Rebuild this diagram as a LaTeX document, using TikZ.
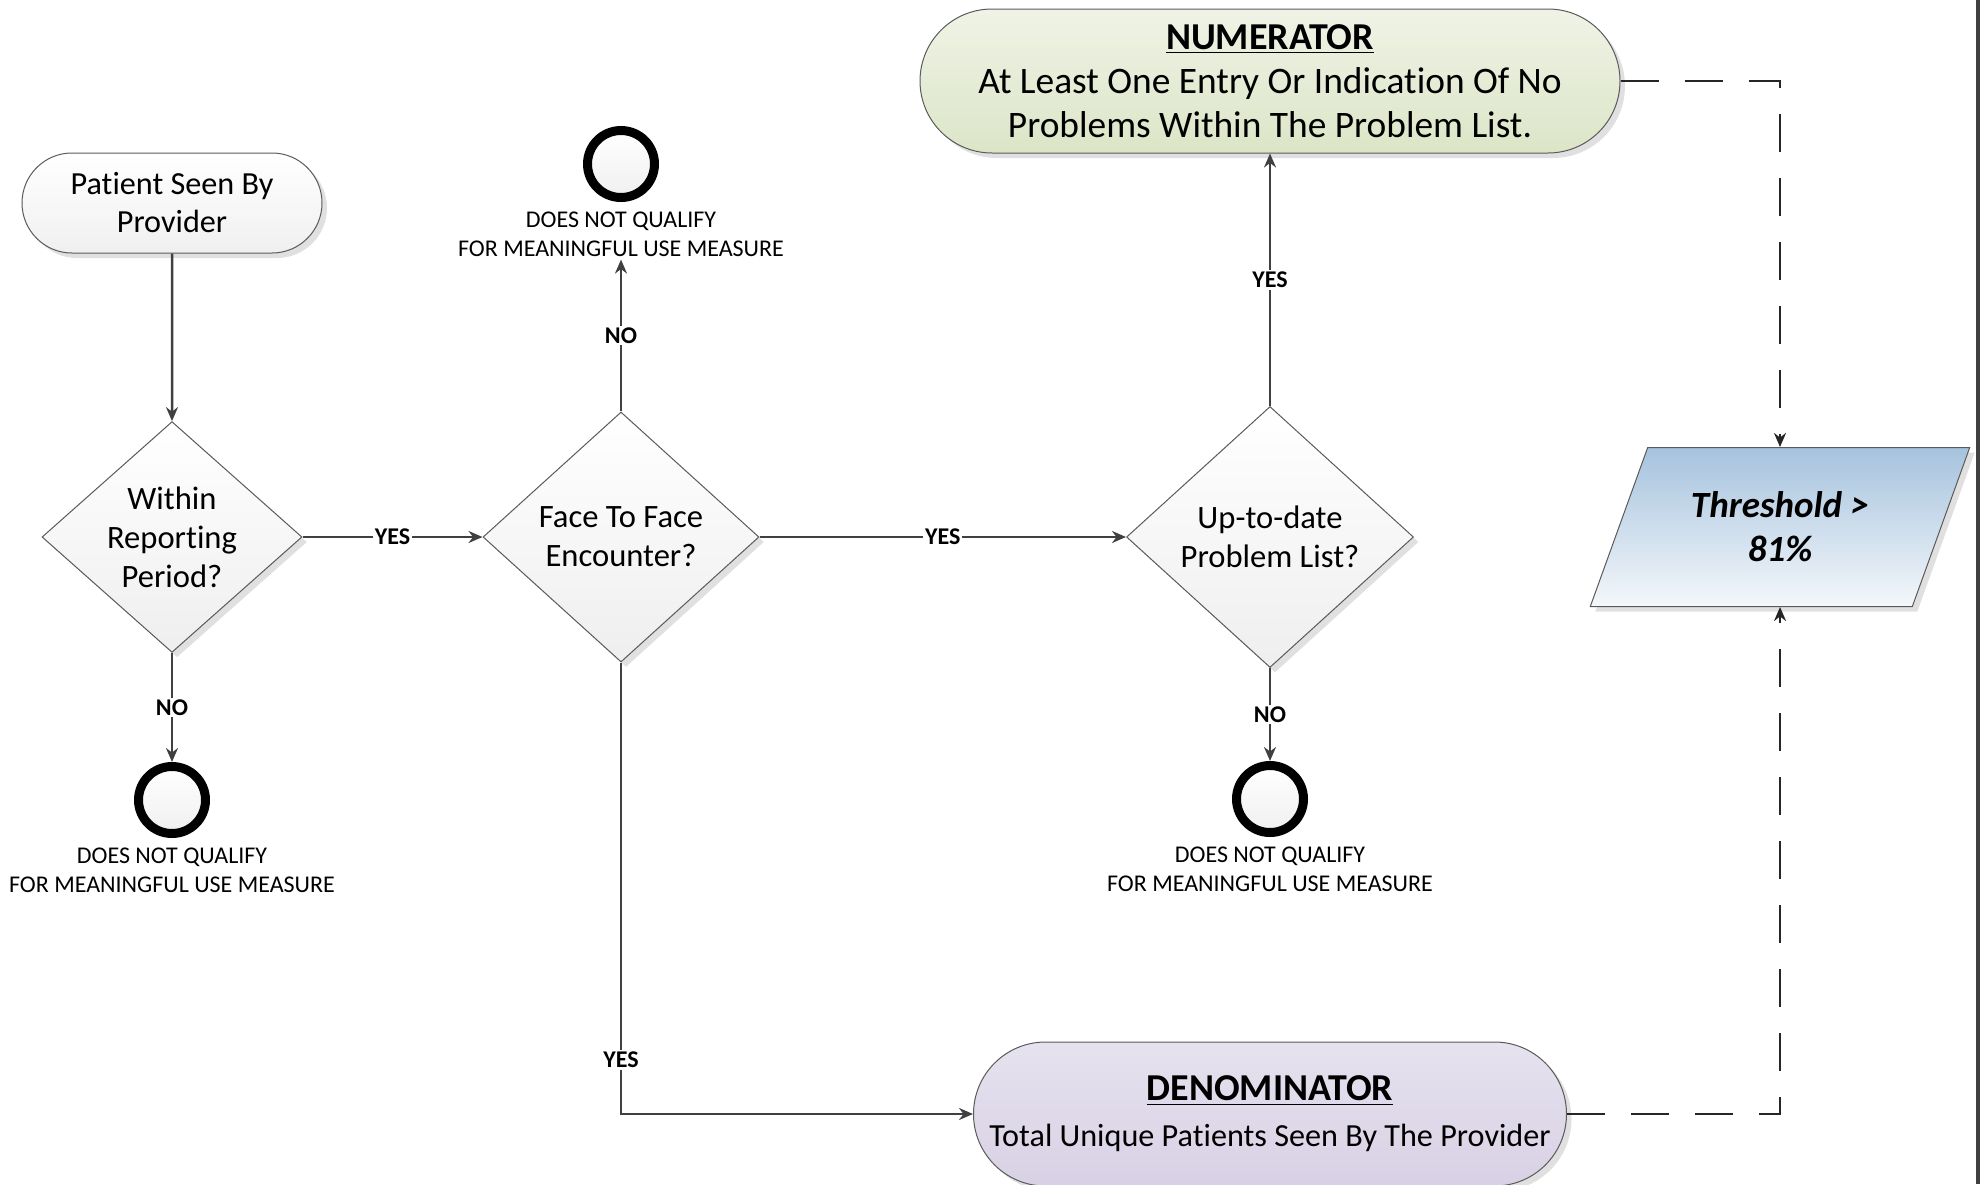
\documentclass[tikz,border=0pt]{standalone}
\usepackage{fontspec}
\setmainfont{Carlito}[Ligatures=NoCommon]
\usetikzlibrary{shapes.geometric, shapes.misc, arrows, arrows.meta, calc, positioning, shadows}
\definecolor{linegray}{HTML}{404040}
\definecolor{edgegray}{HTML}{5A5A5A}
\definecolor{numtop}{HTML}{EFF3E6}
\definecolor{numbot}{HTML}{DCE5C7}
\definecolor{dentop}{HTML}{E6E2EE}
\definecolor{denbot}{HTML}{D8D1E5}
\definecolor{thrtop}{HTML}{A6C3DD}
\definecolor{thrbot}{HTML}{F4F7FB}
\tikzstyle{shade} = [drop shadow={shadow xshift=2.5pt, shadow yshift=-2.5pt, fill=black!12, opacity=1}]
\tikzstyle{terminal} = [rounded rectangle, draw=edgegray, line width=0.5pt, top color=white, bottom color=gray!12, shade, align=center, inner sep=2pt]
\tikzstyle{decision} = [diamond, draw=edgegray, line width=0.5pt, top color=white, bottom color=gray!13, shade, align=center, inner sep=0pt, font=\fontsize{16.3}{19.5}\selectfont]
\tikzstyle{endpoint} = [circle, draw=black, line width=4.5pt, minimum size=33.5pt, inner sep=0pt, top color=white, bottom color=gray!12]
\tikzstyle{note} = [align=center, inner sep=1pt, font=\fontsize{12}{14.5}\selectfont]
\tikzstyle{answer} = [fill=white, inner sep=1pt, font=\fontsize{12}{14}\selectfont\bfseries]
\tikzstyle{arrow} = [line width=1.25pt, draw=linegray, ->, >={Stealth[length=7pt,width=6pt]}]
\tikzstyle{dasharrow} = [line width=1.25pt, draw=black!85, dash pattern=on 19pt off 13pt, ->, >={Stealth[length=7pt,width=6pt]}]
\begin{document}
\begin{tikzpicture}[x=0.5pt, y=-0.5pt]
	\useasboundingbox (0,0) rectangle (1982,1184);
	\node (Patient) [terminal, minimum width=154pt, minimum height=50pt, font=\fontsize{16.1}{19}\selectfont] at (172,203) {Patient Seen By\\Provider};
	\node (Within) [decision, minimum width=130pt, minimum height=112.5pt] at (172,537) {Within\\Reporting\\Period?};
	\node (FaceToFace) [decision, minimum width=138pt, minimum height=125pt] at (621,537) {Face To Face\\Encounter?};
	\node (UpToDate) [decision, minimum width=143.5pt, minimum height=130.5pt] at (1270,537) {Up-to-date\\Problem List?};
	\node (Numerator) [terminal, top color=numtop, bottom color=numbot, minimum width=354pt, minimum height=72pt, font=\fontsize{18.7}{22}\selectfont] at (1270,81) {{\fontsize{19}{22}\selectfont\underline{\textbf{NUMERATOR}}}\\At Least One Entry Or Indication Of No\\Problems Within The Problem List.};
	\node (Denominator) [terminal, top color=dentop, bottom color=denbot, minimum width=300.5pt, minimum height=72pt, font=\fontsize{16.1}{23}\selectfont] at (1270,1114) {{\fontsize{19}{22}\selectfont\underline{\textbf{DENOMINATOR}}}\\Total Unique Patients Seen By The Provider};
	\node (Threshold) [trapezium, trapezium left angle=63.6, trapezium right angle=116.4, trapezium stretches=true, minimum width=190pt, minimum height=79.5pt, draw=edgegray, line width=0.5pt, top color=thrtop, bottom color=thrbot, shade, align=center, font=\fontsize{18.5}{22}\selectfont\bfseries\itshape] at (1780,527) {Threshold >\\81\%};

	\node (EndA) [endpoint] at (172,800) {};
	\node (EndAText) [note, below = 4pt of EndA] {DOES NOT QUALIFY\\FOR MEANINGFUL USE MEASURE};
	\node (EndB) [endpoint] at (621,164) {};
	\node (EndBText) [note, below = 4pt of EndB] {DOES NOT QUALIFY\\FOR MEANINGFUL USE MEASURE};
	\node (EndC) [endpoint] at (1270,799) {};
	\node (EndCText) [note, below = 4pt of EndC] {DOES NOT QUALIFY\\FOR MEANINGFUL USE MEASURE};

	\draw [arrow] (Patient) -- (Within);
	\draw [arrow] (Within) -- node[answer]{YES} (FaceToFace);
	\draw [arrow] (FaceToFace) -- node[answer]{YES} (UpToDate);
	\draw [arrow] (Within) -- node[answer]{NO} (EndA);
	\draw [arrow] (FaceToFace) -- node[answer]{NO} (EndBText);
	\draw [arrow] (UpToDate) -- node[answer]{NO} (EndC);
	\draw [arrow] (UpToDate) -- node[answer]{YES} (Numerator);
	\draw [arrow] (FaceToFace) |- node[answer, pos=0.44]{YES} (Denominator);
	\draw [dasharrow] (Numerator) -| (Threshold);
	\draw [dasharrow] (Denominator) -| (Threshold);

	\fill [linegray] (1976,0) rectangle (1980,1184);
\end{tikzpicture}
\end{document}
